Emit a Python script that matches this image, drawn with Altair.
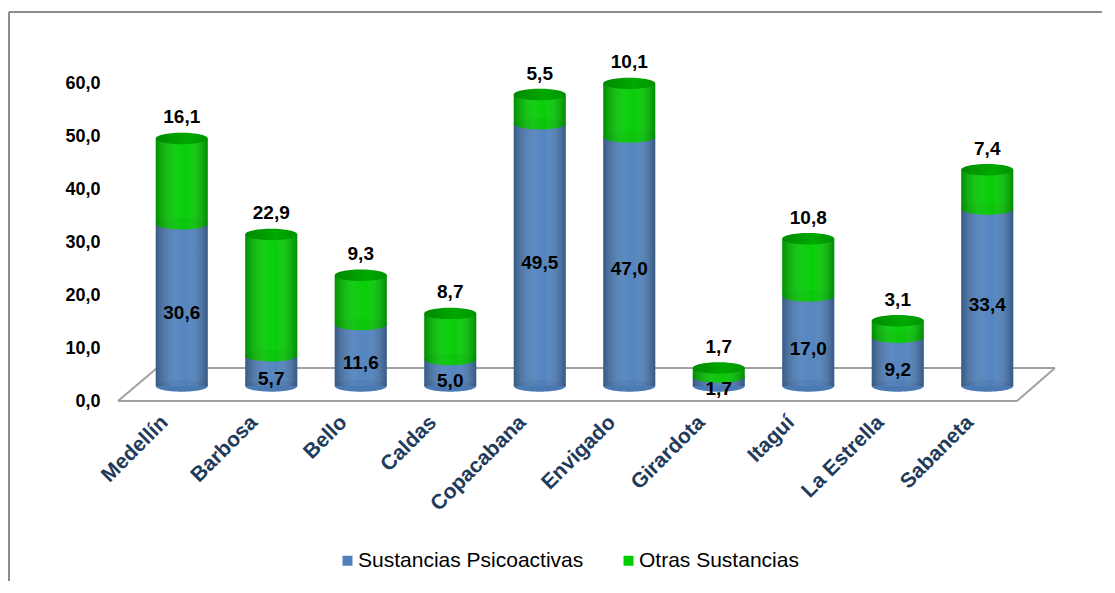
import altair as alt
import pandas as pd

cities = ["Medellín", "Barbosa", "Bello", "Caldas", "Copacabana",
          "Envigado", "Girardota", "Itaguí", "La Estrella", "Sabaneta"]
psico = [30.6, 5.7, 11.6, 5.0, 49.5, 47.0, 1.7, 17.0, 9.2, 33.4]
otras = [16.1, 22.9, 9.3, 8.7, 5.5, 10.1, 1.7, 10.8, 3.1, 7.4]
series = ["Sustancias Psicoactivas", "Otras Sustancias"]
colors = ["#4F81BD", "#00CC00"]

rows = []
for c, p, o in zip(cities, psico, otras):
    rows.append({"city": c, "serie": series[0], "start": 0.0, "end": p, "val": p,
                 "mid": p / 2, "lab": f"{p:.1f}".replace(".", ",")})
    rows.append({"city": c, "serie": series[1], "start": p, "end": p + o, "val": o,
                 "mid": p + o, "lab": f"{o:.1f}".replace(".", ",")})
df = pd.DataFrame(rows)
tot = pd.DataFrame({"city": cities, "total": [p + o for p, o in zip(psico, otras)]})

FONT = "Liberation Sans"
BW = 52
ell = "M-1,0A1,0.22,0,1,1,1,0A1,0.22,0,1,1,-1,0Z"

xenc = alt.X("city:N", sort=cities, scale=alt.Scale(paddingInner=0, paddingOuter=0),
             axis=alt.Axis(title=None, domain=False, ticks=False, labelAngle=-45,
                           labelAlign="right", labelBaseline="middle", labelPadding=33,
                           labelOffset=-17, labelFont=FONT, labelFontWeight="bold",
                           labelFontSize=21, labelColor="#1F3B5C", labelLimit=0))
yscale = alt.Scale(domain=[0, 60], nice=False, zero=True)
yaxis = alt.Axis(title=None, domain=False, ticks=False, grid=False, values=[0, 10, 20, 30, 40, 50, 60],
                 labelExpr="replace(format(datum.value, '.1f'), '.', ',')",
                 labelPadding=37, labelOffset=15, labelFont=FONT, labelFontWeight="bold",
                 labelFontSize=18, labelColor="#000000")

one = pd.DataFrame({"k": [0]})
gray = "#A0A0A0"
floor = [
    alt.Chart(one).mark_rule(color=gray, strokeWidth=2).encode(
        x=alt.value(-19), x2=alt.value(880), y=alt.value(333), y2=alt.value(333)),
    alt.Chart(one).mark_rule(color=gray, strokeWidth=2).encode(
        x=alt.value(20), x2=alt.value(918), y=alt.value(300), y2=alt.value(300)),
    alt.Chart(one).mark_rule(color=gray, strokeWidth=2).encode(
        x=alt.value(-19), x2=alt.value(20), y=alt.value(333), y2=alt.value(300)),
    alt.Chart(one).mark_rule(color=gray, strokeWidth=2).encode(
        x=alt.value(880), x2=alt.value(918), y=alt.value(333), y2=alt.value(300)),
    # outer frame
    alt.Chart(one).mark_rule(color="#8C8C8C", strokeWidth=2).encode(
        x=alt.value(-128), x2=alt.value(-128), y=alt.value(-56), y2=alt.value(515)),
    alt.Chart(one).mark_rule(color="#8C8C8C", strokeWidth=2).encode(
        x=alt.value(-128), x2=alt.value(970), y=alt.value(-56), y2=alt.value(-56)),
]

base = alt.Chart(df)
blue = df[df.serie == series[0]]
green = df[df.serie == series[1]]

bars = base.mark_bar(size=BW).encode(
    x=xenc,
    y=alt.Y("start:Q", scale=yscale, axis=yaxis),
    y2="end:Q",
    color=alt.Color("serie:N", sort=series, scale=alt.Scale(domain=series, range=colors),
                    legend=alt.Legend(title=None, orient="none", legendX=200, legendY=482,
                                      direction="horizontal", symbolType="square",
                                      symbolSize=100, symbolStrokeWidth=0, labelOffset=0,
                                      labelFont=FONT, labelFontSize=21, columnPadding=34,
                                      labelLimit=0, labelColor="#000000")),
)

blue_bottom = alt.Chart(blue).mark_point(shape=ell, size=BW * BW, filled=True, opacity=1,
                                          color="#4A79B3", strokeWidth=0).encode(
    x=alt.X("city:N", sort=cities), y=alt.Y("start:Q", scale=yscale))
green_bottom = alt.Chart(green).mark_point(shape=ell, size=BW * BW, filled=True, opacity=1,
                                           color="#00C400", strokeWidth=0).encode(
    x=alt.X("city:N", sort=cities), y=alt.Y("start:Q", scale=yscale))

shade = alt.Chart(tot).mark_bar(size=BW, fill=alt.Gradient(
    gradient="linear", x1=0, x2=1, y1=0, y2=0,
    stops=[alt.GradientStop(offset=0, color="rgba(0,0,0,0.30)"),
           alt.GradientStop(offset=0.45, color="rgba(255,255,255,0.06)"),
           alt.GradientStop(offset=0.6, color="rgba(255,255,255,0.04)"),
           alt.GradientStop(offset=1, color="rgba(0,0,0,0.32)")])).encode(
    x=alt.X("city:N", sort=cities), y=alt.Y("total:Q", scale=yscale), y2=alt.datum(0))

top_cap = alt.Chart(tot).mark_point(shape=ell, size=BW * BW, filled=True, opacity=1,
                                     strokeWidth=0, fill=alt.Gradient(
    gradient="linear", x1=0, x2=1, y1=0, y2=0,
    stops=[alt.GradientStop(offset=0, color="#008A00"),
           alt.GradientStop(offset=0.6, color="#00A800"),
           alt.GradientStop(offset=1, color="#009400")])).encode(
    x=alt.X("city:N", sort=cities), y=alt.Y("total:Q", scale=yscale))

lab_blue = alt.Chart(blue).mark_text(font=FONT, fontWeight="bold", fontSize=19, dy=8,
                                     color="#000000").encode(
    x=alt.X("city:N", sort=cities), y=alt.Y("mid:Q", scale=yscale), text="lab:N")
lab_green = alt.Chart(green).mark_text(font=FONT, fontWeight="bold", fontSize=19, dy=-21,
                                       color="#000000").encode(
    x=alt.X("city:N", sort=cities), y=alt.Y("mid:Q", scale=yscale), text="lab:N")

chart = alt.layer(*floor, bars, blue_bottom, green_bottom, shade, top_cap,
                  lab_blue, lab_green).properties(
    width=895, height=318, background="#FFFFFF",
    padding={"left": 129, "top": 60, "right": 70, "bottom": 195},
    autosize=alt.AutoSizeParams(type="none"),
).configure_view(stroke=None, strokeWidth=0)

chart.save("out.html", embed_options={"renderer": "svg", "actions": False})
